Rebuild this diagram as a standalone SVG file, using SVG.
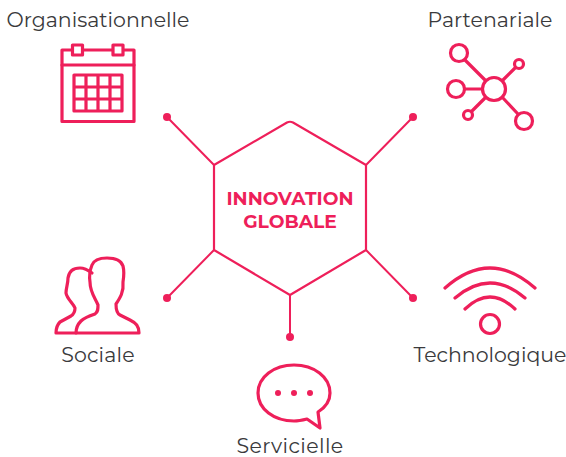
<svg xmlns="http://www.w3.org/2000/svg" width="566" height="457" viewBox="0 0 566 457">
<style>
.s{fill:none;stroke:#ee1f5a;stroke-linejoin:round;stroke-linecap:round}
.w2{stroke-width:2}
.w3{stroke-width:3.200}
.f{fill:#fff}
.d{fill:#ee1f5a}
text{font-family:"Montserrat","Lato","Noto Sans",sans-serif}
.l{font-size:20.500px;fill:#3a3a3c;text-anchor:middle}
.h{font-size:18.700px;font-weight:700;fill:#ee1f5a;text-anchor:middle}
</style>
<rect width="566" height="457" fill="#fff"/>
<g id="connectors">
<path class="s w2" d="M214 165L167 117M366 165L413 117M214 250L167 298M366 250L413 298M290 296V337"/>
<circle class="d" cx="167" cy="117" r="4"/><circle class="d" cx="413" cy="117" r="4"/>
<circle class="d" cx="167" cy="298" r="4"/><circle class="d" cx="413" cy="298" r="4"/>
<circle class="d" cx="290" cy="337" r="4"/>
</g>
<g id="hub">
<path class="s" stroke-width="2.200" d="M214 165L287 122.500Q290 121 293 122.500L366 165V250L290 295L214 250Z"/>
<text class="h" x="290" y="205">INNOVATION</text>
<text class="h" x="290" y="228">GLOBALE</text>
</g>
<g id="organisationnelle">
<rect class="s w3" x="62" y="50" width="72" height="71.500"/>
<path class="s w3" d="M62 65H134"/>
<rect class="s w3 f" x="72.500" y="45" width="10" height="10"/>
<rect class="s w3 f" x="113" y="45" width="10" height="10"/>
<path class="s w3" d="M74 75H122V111H74ZM74 87H122M74 99H122M86 75V111M98 75V111M110 75V111"/>
<text class="l" x="98" y="27">Organisationnelle</text>
</g>
<g id="partenariale">
<circle class="s w3" cx="459" cy="53" r="8.500"/><circle class="s w3" cx="456" cy="89" r="8.500"/>
<circle class="s w3" cx="519" cy="64" r="4.500"/><circle class="s w3" cx="468" cy="115" r="4.500"/>
<circle class="s w3" cx="524" cy="121" r="8.500"/><circle class="s w3" cx="494" cy="89" r="11.500"/>
<path class="s w3" d="M465 60L485 80M465 89H482M503 80L515 68M485 98L472 111M503 98L518 114"/>
<text class="l" x="490" y="27">Partenariale</text>
</g>
<g id="sociale">
<path class="s w3" d="M76 333H139C139 326 136 323 130 320L120 315C116 313 116 308 116 304C120 298 124 292 123 282C124 276 124 270 123 266C121 260 114 258 107 258C100 258 94 260 92 265C90 270 89 276 90 282C90 292 95 298 98 305C98 309 98 312 95 314C89 316 84 318 81 321C77 325 76 329 76 333Z"/>
<path class="s w3" d="M92 273C88 270 85 268 80 268C74 268 69 271 68 278C68 284 66 288 66 293C67 299 73 303 75 308C75 311 74 314 71 316L60 322C57 325 56 329 56 333H76"/>
<text class="l" x="98" y="362" letter-spacing=".2">Sociale</text>
</g>
<g id="technologique">
<path class="s w3" d="M445 288Q490 248 535 288M455 298Q490 268 525 298M465 309Q490 285 515 309"/>
<circle class="s w3" cx="490" cy="324" r="9.500"/>
<text class="l" x="490" y="362">Technologique</text>
</g>
<g id="servicielle">
<path class="s w3" d="M307 419L320 428L318 412C326 407 330 400 330 393C330 377 314 365 294 365C274 365 258 377 258 393C258 409 274 421 294 421C298 421 303 420 307 419Z"/>
<circle class="d" cx="278" cy="393" r="3"/><circle class="d" cx="294" cy="393" r="3"/><circle class="d" cx="310" cy="393" r="3"/>
<text class="l" x="290" y="453" letter-spacing=".4">Servicielle</text>
</g>
</svg>
